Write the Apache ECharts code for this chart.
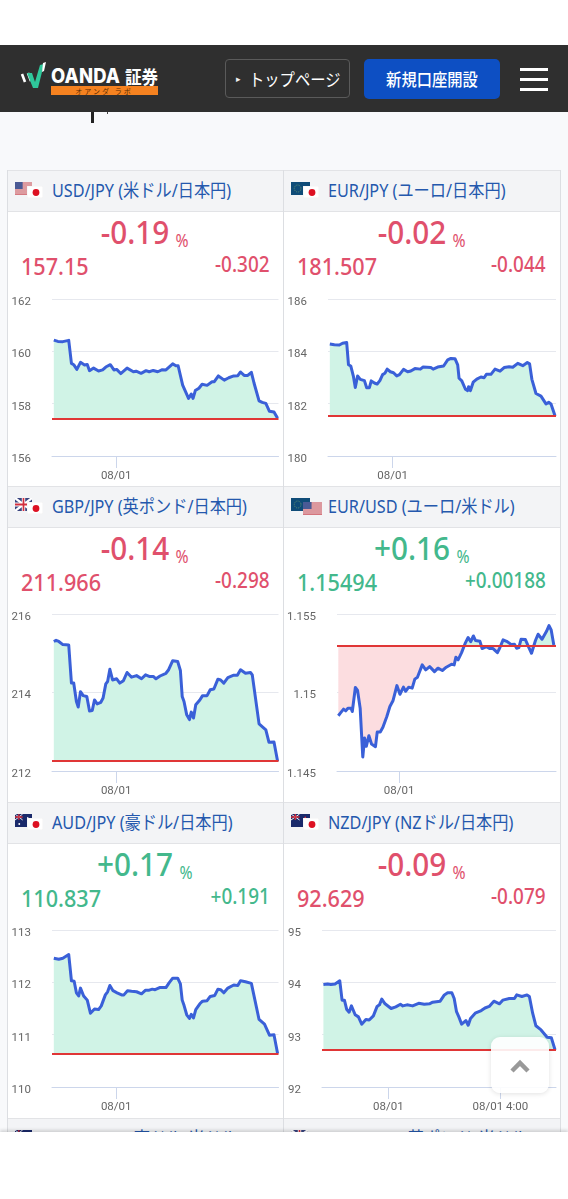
<!DOCTYPE html>
<html lang="ja"><head><meta charset="utf-8"><title>OANDA FX</title>
<style>
html,body{margin:0;padding:0;width:568px;height:1199px;overflow:hidden;background:#fff}
#page{position:absolute;left:0;top:0;width:568px;height:1199px;overflow:hidden;background:#f8f9fb;font-family:"Noto Sans","Noto Sans CJK JP",sans-serif}
#main{position:absolute;left:0;top:0;width:568px;height:1199px}
.box{position:absolute;box-sizing:border-box}
.t{position:absolute;white-space:nowrap;line-height:1}
svg{position:absolute;display:block}
</style></head><body><div id="page"><div id="main"></div></div>
<script src="https://cdn.jsdelivr.net/npm/echarts@6/dist/echarts.min.js"></script>
<script>
const pairTitles=['USD/JPY (米ドル/日本円)','EUR/JPY (ユーロ/日本円)','GBP/JPY (英ポンド/日本円)','EUR/USD (ユーロ/米ドル)','AUD/JPY (豪ドル/日本円)','NZD/JPY (NZドル/日本円)'];
const pctTexts=['-0.19','-0.02','-0.14','+0.16','+0.17','-0.09'];
const priceTexts=['157.15','181.507','211.966','1.15494','110.837','92.629'];
const changeTexts=['-0.302','-0.044','-0.298','+0.00188','+0.191','-0.079'];
const refLines=[157.44,181.53,212.25,1.15299,110.64,92.71];
const yMins=[156,180,212,1.145,110,92];
const yMaxs=[162,186,216,1.155,113,95];
const yIntervals=[2,2,2,0.005,1,1];
const xTickLists=[[0],[0],[0],[0],[0],[0,240]];
const xTickNames={0:'08/01',240:'08/01 4:00'};
const xMin=-142,xMax=359;

const usdT=[-138,-129,-118,-105,-99,-94,-87,-79,-70,-64,-59,-50,-39,-30,-23,-19,-13,-5,1,10,24,38,44,55,66,73,82,92,102,110,125,132,137,147,160,166,170,175,183,190,201,212,217,226,239,249,260,269,275,283,291,299,305,316,323,331,339,349,357];
const usdV=[160.43,160.38,160.37,160.42,159.54,159.49,159.31,159.58,159.48,159.50,159.26,159.36,159.25,159.29,159.40,159.35,159.49,159.29,159.31,159.15,159.36,159.22,159.24,159.16,159.26,159.22,159.27,159.22,159.30,159.29,159.52,159.45,159.45,158.71,158.20,158.37,158.20,158.50,158.59,158.74,158.70,158.84,158.84,159.06,158.90,158.99,159.06,159.07,159.21,159.08,159.08,159.20,158.78,158.11,158.05,158.01,157.71,157.68,157.44];
const eurT=[-138,-128,-117,-110,-101,-97,-92,-86,-82,-77,-71,-62,-57,-51,-47,-39,-34,-28,-22,-17,-12,-5,2,9,15,24,33,40,49,61,67,84,89,99,112,121,128,137,143,146,152,160,165,167,171,177,185,194,201,206,216,225,236,245,256,264,275,286,296,301,306,315,326,337,343,348,357];
const eurV=[184.28,184.25,184.24,184.31,184.34,183.49,183.44,183.03,182.62,183.06,182.93,182.88,182.61,182.61,182.87,182.78,182.75,182.88,183.11,183.16,183.32,183.22,183.18,183.06,183.11,183.31,183.22,183.25,183.34,183.32,183.40,183.38,183.32,183.40,183.44,183.67,183.73,183.72,183.48,182.97,182.87,182.55,182.50,182.65,182.50,182.82,182.94,183.02,182.99,183.12,183.12,183.32,183.24,183.38,183.41,183.39,183.54,183.45,183.57,183.52,182.93,182.39,182.29,181.99,182.05,181.99,181.53];
const gbpT=[-138,-133,-127,-118,-105,-99,-94,-88,-84,-79,-73,-65,-59,-53,-48,-42,-34,-29,-23,-19,-14,-8,-4,1,8,16,24,34,45,56,65,73,82,88,97,110,116,125,136,142,146,150,156,162,166,171,176,185,191,201,208,216,225,231,238,247,260,268,275,286,297,301,316,331,338,349,357];
const gbpV=[215.30,215.33,215.30,215.22,215.21,214.24,214.24,213.77,213.63,214.02,213.92,213.90,213.53,213.54,213.81,213.71,213.75,213.86,214.22,214.28,214.59,214.32,214.28,214.35,214.24,214.30,214.51,214.39,214.43,214.35,214.45,214.41,214.41,214.35,214.42,214.49,214.58,214.81,214.79,214.56,213.90,213.77,213.43,213.31,213.50,213.35,213.69,213.81,213.92,213.92,214.07,214.09,214.34,214.32,214.24,214.38,214.44,214.44,214.58,214.49,214.51,214.45,213.20,213.05,212.73,212.74,212.25];
const eurUsdT=[-139,-133,-127,-122,-117,-110,-107,-100,-95,-89,-86,-83,-79,-75,-69,-63,-54,-50,-43,-37,-28,-21,-14,-5,2,10,15,22,30,36,42,53,61,70,81,89,99,108,120,126,130,135,143,152,158,164,170,175,185,190,200,207,215,225,230,238,246,257,264,269,274,279,289,297,303,312,318,327,337,343,348,354];
const eurUsdV=[1.14852,1.14873,1.14894,1.14883,1.14900,1.14900,1.14879,1.15032,1.15013,1.14900,1.14742,1.14589,1.14710,1.14657,1.14725,1.14672,1.14655,1.14748,1.14748,1.14778,1.14847,1.14911,1.14947,1.15044,1.14989,1.15034,1.15008,1.15034,1.15028,1.15085,1.15097,1.15176,1.15144,1.15165,1.15133,1.15155,1.15140,1.15161,1.15180,1.15176,1.15225,1.15208,1.15254,1.15318,1.15350,1.15324,1.15360,1.15331,1.15326,1.15280,1.15292,1.15280,1.15280,1.15254,1.15282,1.15335,1.15326,1.15305,1.15307,1.15282,1.15286,1.15339,1.15337,1.15286,1.15250,1.15331,1.15371,1.15339,1.15388,1.15426,1.15398,1.15303];
const audT=[-138,-127,-118,-105,-99,-93,-88,-83,-79,-72,-64,-57,-53,-48,-39,-33,-24,-19,-14,-7,2,12,17,25,34,45,56,65,73,80,86,96,110,117,125,136,142,146,150,156,162,166,171,176,185,191,201,208,218,225,231,238,247,260,269,275,286,299,316,328,339,349,357];
const audV=[112.46,112.44,112.46,112.53,112.03,112.02,111.80,111.74,111.89,111.74,111.66,111.41,111.38,111.49,111.48,111.55,111.76,111.82,111.94,111.84,111.80,111.76,111.76,111.84,111.83,111.82,111.78,111.85,111.85,111.87,111.86,111.90,111.90,111.99,112.08,112.08,111.97,111.66,111.56,111.38,111.31,111.39,111.32,111.48,111.59,111.64,111.65,111.73,111.75,111.87,111.86,111.80,111.89,111.95,111.94,112.03,112.01,111.98,111.29,111.20,110.99,111.00,110.64];
const nzdT=[-139,-130,-123,-114,-104,-99,-94,-89,-84,-79,-71,-64,-57,-53,-48,-41,-32,-24,-19,-14,-7,6,16,26,31,40,52,65,77,88,95,111,120,127,136,141,146,151,157,161,166,171,176,186,199,207,216,226,238,245,259,270,275,286,297,302,309,316,327,340,349,357];
const nzdV=[93.96,93.97,93.96,93.97,94.03,93.66,93.66,93.48,93.43,93.55,93.38,93.34,93.20,93.18,93.29,93.28,93.36,93.54,93.57,93.68,93.59,93.50,93.53,93.58,93.55,93.57,93.55,93.60,93.58,93.59,93.62,93.64,93.76,93.80,93.80,93.69,93.44,93.34,93.20,93.18,93.27,93.18,93.31,93.41,93.46,93.51,93.54,93.64,93.59,93.66,93.69,93.69,93.76,93.73,93.76,93.73,93.41,93.17,93.09,92.95,92.94,92.71];
const seriesTimes=[usdT,eurT,gbpT,eurUsdT,audT,nzdT];
const seriesValues=[usdV,eurV,gbpV,eurUsdV,audV,nzdV];

// layout
const gridLeft=[52,328,52,337,52,322], gridRight=[278.5,556,278.5,556,278.5,556];
const gridTop=[299,299,614,614,930,930], gridH=157;
const rowTop=[170,486,802];
const backFlags=['us','eu','gb','eu','au','nz'], frontFlags=['jp','jp','jp','us','jp','jp'];
const RED='#e0506c',GREEN='#43b88c',BLUE='#2458ad',SQ=0.9;
const page=document.getElementById('page');

function box(x,y,w,h,css,z){const d=document.createElement('div');d.className='box';
  d.style.cssText=`left:${x}px;top:${y}px;width:${w}px;height:${h}px;${css||''}`;if(z)d.style.zIndex=z;page.appendChild(d);return d;}
function text(s,x,y,size,color,align,extra,z,sq){const d=document.createElement('div');d.className='t';d.textContent=s;
  const k=sq||SQ;let tr,org;
  if(align==='right'){d.style.right=(568-x)+'px';tr=`translateY(-50%) scaleX(${k})`;org='right center';}
  else if(align==='center'){d.style.left=x+'px';tr=`translate(-50%,-50%) scaleX(${k})`;org='center center';}
  else{d.style.left=x+'px';tr=`translateY(-50%) scaleX(${k})`;org='left center';}
  d.style.top=y+'px';d.style.fontSize=size+'px';d.style.color=color;d.style.transform=tr;d.style.transformOrigin=org;
  if(extra)d.style.cssText+=';'+extra;if(z)d.style.zIndex=z;page.appendChild(d);return d;}
function svg(x,y,w,h,inner,z,vb){const n=document.createElement('div');
  n.innerHTML=`<svg xmlns="http://www.w3.org/2000/svg" width="${w}" height="${h}" viewBox="${vb||`0 0 ${w} ${h}`}" style="left:${x}px;top:${y}px;${z?`z-index:${z};`:''}" preserveAspectRatio="none">${inner}</svg>`;
  page.appendChild(n.firstChild);}
const FLAG={
 us:'<rect width="20" height="13" fill="#e8c5c8"/><path d="M0 1h20M0 3h20M0 5h20M0 7h20M0 9h20M0 11h20M0 12.6h20" stroke="#d06a72" stroke-width="1"/><rect width="9" height="7" fill="#4a5a95"/>',
 jp:'<rect width="16" height="12" fill="#fff" stroke="#e6e6e6" stroke-width=".5"/><circle cx="9" cy="6.5" r="3.4" fill="#dd1122"/>',
 eu:'<rect width="20" height="13" fill="#0f4c78"/><circle cx="7" cy="6.5" r="3.5" fill="none" stroke="#5f8f70" stroke-width="1" stroke-dasharray="1 1"/>',
 gb:'<rect width="20" height="13" fill="#39457f"/><path d="M0 0L20 13M20 0L0 13" stroke="#fff" stroke-width="2.4"/><path d="M10 0V13M0 6.5H20" stroke="#fff" stroke-width="4"/><path d="M10 0V13M0 6.5H20" stroke="#d22f3d" stroke-width="2"/>',
 au:'<rect width="20" height="13" fill="#1a2a6b"/><path d="M0 0L9 6M9 0L0 6" stroke="#fff" stroke-width="1"/><path d="M4.5 0V6M0 3H9" stroke="#d22f3d" stroke-width="1.4"/><circle cx="15" cy="4" r=".9" fill="#fff"/><circle cx="15" cy="10" r=".9" fill="#fff"/><circle cx="5" cy="10" r="1.1" fill="#fff"/>',
 nz:'<rect width="20" height="13" fill="#1a2a6b"/><path d="M0 0L9 6M9 0L0 6" stroke="#fff" stroke-width="1"/><path d="M4.5 0V6M0 3H9" stroke="#d22f3d" stroke-width="1.4"/><circle cx="15" cy="3.5" r=".9" fill="#d22f3d"/><circle cx="15" cy="10" r=".9" fill="#d22f3d"/><circle cx="17" cy="6" r=".8" fill="#d22f3d"/>'
};

// page chrome under the chart
box(7,170,554,970,'background:#fff;border:1px solid #dcdee2;border-bottom:0');
box(283,170,1,970,'background:#dcdee2');
[0,1,2,3].forEach(r=>{const y=r<3?rowTop[r]:1118;
  box(8,y,552,42,'background:#f3f4f6;border-top:1px solid #e2e3e6;border-bottom:1px solid #e2e3e6');
  box(283,y,1,42,'background:#dcdee2');});

// cells
pairTitles.forEach((name,i)=>{const c=i%2,top=rowTop[Math.floor(i/2)],ox=c*276;
  svg(15+ox,top+12,17+(c?2:0),13,FLAG[backFlags[i]],0,'0 0 20 13');
  svg(27+ox,top+16,16+(frontFlags[i]==='us'?3:0),12+(frontFlags[i]==='us'?1:0),FLAG[frontFlags[i]],0,frontFlags[i]==='us'?'0 0 20 13':'0 0 16 12');
  text(name,52+ox,top+20,18,BLUE,'left');
  const col=pctTexts[i][0]==='-'?RED:GREEN;
  const cx=[135,411.5,135,411.5,135,411.5][i];
  text(pctTexts[i],cx,top+61,33,col,'center','font-weight:500');
  text('%',cx+47+(pctTexts[i][0]==='+'?4:0),top+70,18.5,col,'center','font-weight:400',0,0.85);
  text(priceTexts[i],21+ox,top+95.5,24,col,'left','font-weight:500');
  text(changeTexts[i],270+ox,top+94,21,col,'right','font-weight:500');
});
[['AUD/USD (豪ドル/米ドル)',0,'au','us'],['GBP/USD (英ポンド/米ドル)',1,'gb','us']].forEach(a=>{
  text(a[0],52+a[1]*276,1138,18,BLUE,'left');
  svg(15+a[1]*276,1130,17,13,FLAG[a[2]],0,'0 0 20 13');});
box(91,112,3,11,'background:#222');box(107,112,1,2,'background:#444');

// chart canvas above the page chrome
const mainEl=document.getElementById('main');page.appendChild(mainEl);
const chart=echarts.init(mainEl,null,{renderer:'canvas',width:568,height:1199});
const GREEN_AREA='#d0f3e6',PINK_AREA='#fcdde0';
function areaColor(vals,ref){const lo=Math.min(...vals,ref),hi=Math.max(...vals,ref);
  if(lo>=ref)return GREEN_AREA;const k=(hi-ref)/(hi-lo);
  return new echarts.graphic.LinearGradient(0,0,0,1,[{offset:0,color:GREEN_AREA},{offset:k,color:GREEN_AREA},{offset:k,color:PINK_AREA},{offset:1,color:PINK_AREA}]);}
const lblFont={fontFamily:'Roboto',fontSize:11.5,color:'#666'};
chart.setOption({animation:false,
 grid:pairTitles.map((_,i)=>({left:gridLeft[i],width:gridRight[i]-gridLeft[i],top:gridTop[i],height:gridH,containLabel:false})),
 xAxis:pairTitles.map((_,i)=>({type:'value',gridIndex:i,min:xMin,max:xMax,splitLine:{show:false},
   axisLine:{show:true,onZero:false,lineStyle:{color:'#ccd6eb',width:1}},
   axisTick:{show:true,length:12,customValues:xTickLists[i],lineStyle:{color:'#ccd6eb'}},
   axisLabel:{...lblFont,margin:14,customValues:xTickLists[i],formatter:v=>xTickNames[v]||''}})),
 yAxis:pairTitles.map((_,i)=>({type:'value',gridIndex:i,min:yMins[i],max:yMaxs[i],interval:yIntervals[i],
   axisLine:{show:false},axisTick:{show:false},
   splitLine:{show:true,lineStyle:{color:'#e6e8ee',width:1}},
   axisLabel:{...lblFont,margin:21,formatter:v=>'{a|'+String(parseFloat(v.toFixed(3)))+'}',
     rich:{a:{...lblFont,padding:[6,0,0,0]}}}})),
 series:pairTitles.map((_,i)=>({type:'line',name:pairTitles[i],xAxisIndex:i,yAxisIndex:i,showSymbol:false,smooth:false,
   data:seriesTimes[i].map((t,k)=>[t,seriesValues[i][k]]),
   lineStyle:{color:'#3a60d8',width:3,join:'round'},
   areaStyle:{origin:refLines[i],color:areaColor(seriesValues[i],refLines[i]),opacity:1},
   markLine:{silent:true,symbol:'none',animation:false,precision:5,label:{show:false},lineStyle:{color:'#e03636',width:1.8,type:'solid'},data:[{yAxis:refLines[i]}]}
 }))
});

// header and overlays
box(0,0,568,45,'background:#fff',5);
box(0,45,568,67,'background:#2f2f2f',5);
svg(20,60,28,30,'<path d="M2 14l3 8M8 13l3 8" stroke="#fff" stroke-width="2.6" fill="none"/><path d="M7 13l6 15 5-0L24 4l-4 1-5 17-3-9z" fill="#2fc79a"/><path d="M23 3l3-1-2 9-2 1z" fill="#fff"/>',6);
text('OANDA',51,76,20,'#fff','left','font-weight:800;font-family:Inter,"Noto Sans",sans-serif;letter-spacing:.2px',6,0.92);
text('証券',125,76,18,'#fff','left','font-family:"Noto Sans CJK JP";font-weight:700',6,0.92);
box(51,86,107,9,'background:#f58220',6);
text('オアンダ ラボ',104,90.5,7,'#5a2c00','center','font-family:"Noto Sans CJK JP";letter-spacing:2px',6,1);
box(225,59,125,39,'border:1px solid #5a5a5a;border-radius:4px',6);
text('▸',236,78,9,'#eee','left','',6,1);
text('トップページ',249,78,17,'#fff','left','font-family:"Noto Sans CJK JP"',6);
box(364,59,136,40,'background:#0d4fc3;border-radius:5px',6);
text('新規口座開設',432,78,17,'#fff','center','font-family:"Noto Sans CJK JP";font-weight:500',6);
[68,78,88].forEach(y=>box(520,y,28,3,'background:#fff',6));
box(0,1132,568,67,'background:#fff;box-shadow:0 -2px 3px rgba(0,0,0,.15)',5);
box(491,1037,58,56,'background:rgba(255,255,255,.9);border-radius:9px;box-shadow:0 1px 5px rgba(0,0,0,.12)',7);
svg(510,1059,20,14,'<path d="M2 12L10 4L18 12" fill="none" stroke="#999" stroke-width="4.5"/>',8);
</script></body></html>
